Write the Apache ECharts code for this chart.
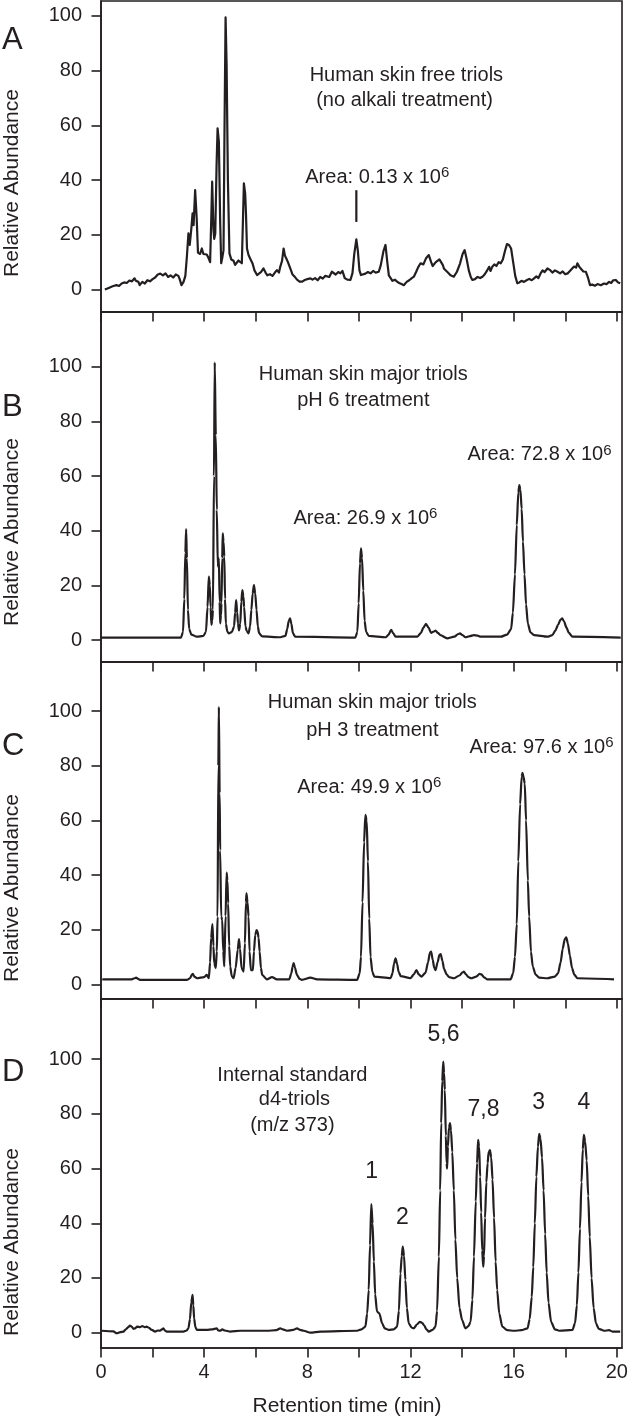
<!DOCTYPE html>
<html><head><meta charset="utf-8">
<script src="https://cdn.jsdelivr.net/npm/echarts@6/dist/echarts.min.js"></script>
<style>html,body{margin:0;padding:0;background:#fff}#c{width:633px;height:1416px}</style>
</head><body><div id="c"></div>
<script>
// ---- axis ticks ----
const xTicks = [0, 2, 4, 6, 8, 10, 12, 14, 16, 18, 20];
const xLabels = [0, 4, 8, 12, 16, 20];
const yTicks = [0, 20, 40, 60, 80, 100];

// ---- traces: [retention time (min), relative abundance] ----
const traceA = [[0.15,0],[0.3,0.6],[0.45,1.2],[0.6,1.6],[0.7,1.3],[0.8,2.2],[0.9,2.6],[1.0,2.4],[1.1,3.3],[1.2,3.0],[1.3,4.1],[1.35,3.2],[1.45,2.8],[1.5,1.6],[1.6,2.8],[1.7,2.2],[1.8,3.4],[1.9,3.0],[2.0,3.8],[2.1,4.4],[2.2,5.5],[2.3,5.8],[2.4,5.2],[2.5,5.9],[2.6,4.6],[2.7,5.2],[2.8,4.4],[2.9,5.5],[3.0,5.0],[3.05,3.8],[3.12,1.6],[3.2,2.8],[3.27,5.0],[3.33,12],[3.39,20.5],[3.44,16.3],[3.5,22],[3.55,27.8],[3.59,23.5],[3.65,36.3],[3.71,26],[3.76,13.5],[3.84,13],[3.91,15],[3.97,13],[4.04,12.4],[4.1,12.8],[4.17,11.5],[4.23,10],[4.27,24],[4.31,39.4],[4.36,22],[4.39,18.5],[4.43,20.5],[4.48,45],[4.52,58.9],[4.57,54],[4.62,25],[4.66,9.6],[4.71,12],[4.75,14.4],[4.79,60],[4.83,99.4],[4.87,82],[4.92,40],[4.98,13.2],[5.05,11],[5.14,10.5],[5.2,9],[5.27,9.6],[5.33,10.6],[5.40,10],[5.46,9.6],[5.5,24],[5.54,38.8],[5.59,35],[5.62,28],[5.66,15],[5.72,12.6],[5.8,11],[5.88,9.4],[5.95,7],[6.05,5.3],[6.12,5.6],[6.2,6.4],[6.3,7.7],[6.38,6.2],[6.45,5.2],[6.55,5.6],[6.65,5.0],[6.75,6.3],[6.82,7.1],[6.9,6.2],[6.95,8.3],[7.02,10.5],[7.08,15],[7.13,12.5],[7.18,11.4],[7.24,10.2],[7.31,9.6],[7.36,7.2],[7.42,5.6],[7.5,4.8],[7.6,3.6],[7.7,2.9],[7.8,2.9],[7.9,3.5],[8.0,3.8],[8.12,4.1],[8.2,3.6],[8.3,4.2],[8.4,3.4],[8.5,4.6],[8.6,4.0],[8.7,5.0],[8.76,5.3],[8.85,4.6],[8.95,6.5],[9.02,6.8],[9.1,5.5],[9.2,6.4],[9.28,5.9],[9.36,6.8],[9.45,4.2],[9.55,3.6],[9.67,3.5],[9.75,6],[9.82,13],[9.9,18.3],[9.96,14],[10.02,7],[10.08,5.3],[10.15,5.0],[10.25,5.8],[10.35,6.4],[10.45,5.9],[10.55,6.8],[10.65,6.2],[10.77,6.5],[10.85,9],[10.95,14],[11.03,16.3],[11.1,10],[11.16,5.2],[11.2,4.7],[11.3,3.2],[11.4,3.6],[11.48,2.9],[11.56,2.4],[11.65,2.0],[11.74,1.6],[11.85,2.8],[11.95,3.4],[12.05,4.2],[12.13,4.7],[12.22,6.5],[12.3,8.2],[12.39,9.6],[12.5,9.2],[12.6,11.4],[12.71,12.6],[12.8,10],[12.86,8.6],[12.91,8.3],[12.98,10],[13.05,9.4],[13.12,11],[13.17,10.8],[13.25,9],[13.3,7.6],[13.36,8.3],[13.45,6.2],[13.55,5.2],[13.68,4.7],[13.8,6.5],[13.92,9.5],[14.02,13],[14.1,14.4],[14.18,11],[14.26,7],[14.34,4.5],[14.4,3.5],[14.5,3.8],[14.6,4.6],[14.7,4.2],[14.79,4.7],[14.88,5.6],[14.96,6.8],[15.05,8.3],[15.1,6.8],[15.17,8.3],[15.25,9.2],[15.33,8.6],[15.42,10],[15.5,9.6],[15.58,11],[15.66,14],[15.74,16.6],[15.82,16.3],[15.9,15],[15.98,10],[16.06,5],[16.14,2.3],[16.22,2.6],[16.3,3.2],[16.4,2.8],[16.5,3.4],[16.6,3.9],[16.7,3.4],[16.79,4.1],[16.88,4.8],[16.96,4.2],[17.05,6.0],[17.12,7.0],[17.2,6.4],[17.31,7.7],[17.4,7.2],[17.5,6.2],[17.6,7.0],[17.7,6.5],[17.8,5.9],[17.9,6.6],[18.0,5.6],[18.09,5.9],[18.18,6.8],[18.26,7.6],[18.34,8.4],[18.42,8.0],[18.47,9.6],[18.55,8.2],[18.62,7.8],[18.7,6.6],[18.8,6.5],[18.88,4.4],[18.96,1.6],[19.05,1.8],[19.15,1.4],[19.25,2.0],[19.38,1.6],[19.5,2.2],[19.6,2.0],[19.7,2.8],[19.78,2.4],[19.86,3.4],[19.96,3.5],[20.05,2.6],[20.13,2.3]];

const traceB = [[0,0.9],[3.1,0.9],[3.18,3],[3.23,15],[3.27,32],[3.3,40.6],[3.33,30],[3.37,11],[3.42,4],[3.5,2],[3.72,1.2],[3.97,1.5],[4.07,3],[4.13,12],[4.18,23.2],[4.22,20],[4.25,12],[4.28,5.5],[4.31,7],[4.34,11],[4.38,60],[4.41,101.6],[4.45,75],[4.49,47.6],[4.53,26.8],[4.57,29.9],[4.6,14],[4.62,6.1],[4.65,9],[4.67,13.4],[4.7,30],[4.72,39],[4.75,36],[4.78,30.5],[4.81,15],[4.84,6],[4.9,3],[4.96,2.4],[5.08,3],[5.16,5],[5.2,10],[5.24,14.6],[5.28,10],[5.31,6.1],[5.35,3.5],[5.4,6],[5.44,14],[5.48,18.3],[5.52,16],[5.55,12],[5.6,5],[5.65,3.3],[5.72,2.4],[5.78,5],[5.83,11],[5.88,17],[5.93,20.1],[5.98,17],[6.03,11],[6.08,5],[6.13,2.5],[6.25,1.3],[6.95,1],[7.15,1.5],[7.22,4],[7.28,7],[7.33,7.9],[7.38,6],[7.44,2.5],[7.53,1.2],[9.86,0.9],[9.94,3],[9.99,13.4],[10.04,28],[10.08,33.5],[10.12,30],[10.17,18],[10.22,7],[10.28,3],[10.38,1.5],[11.05,1],[11.15,2],[11.25,3.7],[11.33,2.4],[11.42,1.2],[12.26,1.2],[12.4,2.5],[12.5,4.5],[12.6,5.9],[12.7,4.5],[12.8,2.6],[12.9,3.1],[12.97,3.4],[13.06,2.6],[13.16,1.8],[13.42,0.6],[13.7,1.2],[13.85,2.2],[13.92,2.4],[14.0,1.9],[14.13,1.0],[14.3,1.4],[14.46,1.8],[14.6,1.6],[14.72,1.2],[15.5,1.2],[15.75,2],[15.9,4],[15.97,10],[16.05,24],[16.12,42],[16.18,54],[16.22,56.7],[16.26,55],[16.31,48],[16.36,36],[16.42,24],[16.48,13],[16.55,6],[16.65,2.8],[16.79,1.8],[17.31,1.2],[17.5,1.8],[17.62,3.5],[17.72,5.5],[17.82,7.5],[17.88,7.9],[17.95,6.8],[18.05,4.5],[18.14,2.6],[18.28,1.2],[20.15,0.9]];

const traceC = [[0.05,1.8],[1.19,1.8],[1.3,2.2],[1.36,2.4],[1.44,2.0],[1.51,1.6],[3.33,1.6],[3.45,2.2],[3.52,3.4],[3.56,3.8],[3.62,2.8],[3.72,2.2],[4.0,2.6],[4.1,3.4],[4.18,2.2],[4.23,8],[4.27,17],[4.32,22],[4.36,14],[4.39,7.7],[4.45,5.9],[4.49,12],[4.52,24.8],[4.55,80],[4.57,101.6],[4.6,70],[4.62,49],[4.66,24.8],[4.7,23.5],[4.74,12],[4.78,6.5],[4.83,25],[4.87,40.9],[4.9,38],[4.93,29.6],[4.97,14],[5.01,6.5],[5.07,3],[5.14,2.2],[5.22,6],[5.3,12.6],[5.35,16.5],[5.39,13],[5.45,5.9],[5.53,4.6],[5.58,15],[5.62,30],[5.64,33.3],[5.68,30],[5.72,24.8],[5.76,12],[5.81,5.2],[5.89,5.2],[5.93,12],[5.98,18],[6.03,19.8],[6.07,19.3],[6.11,17],[6.15,12],[6.2,6],[6.25,3.4],[6.43,1.8],[6.63,2.6],[6.82,1.8],[7.3,1.8],[7.38,4],[7.43,6.5],[7.47,7.7],[7.52,6],[7.6,3.4],[7.7,2],[7.79,1.6],[8.12,2.4],[8.38,1.8],[9.93,1.6],[10.03,4],[10.08,10],[10.14,30],[10.2,52],[10.25,62],[10.3,60],[10.35,45],[10.4,24],[10.45,10],[10.52,4.5],[10.6,2.8],[11.23,2.2],[11.3,4],[11.36,7.5],[11.42,9.5],[11.48,7.5],[11.54,4.5],[11.62,3],[12.0,2.2],[12.12,3.5],[12.23,5.2],[12.32,3.6],[12.42,2.8],[12.58,4.2],[12.68,8],[12.75,11.5],[12.8,12],[12.86,9],[12.92,6],[12.97,5.2],[13.05,8],[13.12,10.8],[13.17,11],[13.24,8.5],[13.3,5.6],[13.4,3.6],[13.5,2.6],[13.68,2.2],[13.9,3.2],[14.02,4.4],[14.07,4.6],[14.15,3.6],[14.25,2.6],[14.35,2.2],[14.55,2.8],[14.68,3.8],[14.75,3.6],[14.87,2.4],[14.97,1.8],[15.88,1.8],[15.98,4],[16.05,10],[16.12,22],[16.18,45],[16.25,66],[16.31,76],[16.34,77.4],[16.38,76],[16.43,73.5],[16.48,60],[16.55,38],[16.6,24.8],[16.67,12],[16.74,6.5],[16.85,3.5],[17.0,2.4],[17.31,2.2],[17.6,2.8],[17.72,4],[17.82,8],[17.9,13],[17.98,16.5],[18.04,17.2],[18.1,15],[18.18,10.5],[18.26,6],[18.35,3.5],[18.47,2.2],[19.89,1.8]];

const traceD = [[0.03,0.7],[0.48,0.5],[0.61,-0.2],[0.75,0.2],[0.87,0.4],[0.96,1.2],[1.06,2],[1.12,2.6],[1.19,2.2],[1.26,1.4],[1.32,1.6],[1.4,2.2],[1.51,2],[1.6,2.4],[1.7,2.0],[1.77,2.2],[1.85,1.8],[1.97,1],[2.1,0.4],[2.2,0.8],[2.29,0.7],[2.36,1.2],[2.42,1.6],[2.48,0.8],[2.55,0.4],[3.2,0.4],[3.32,0.8],[3.39,1.6],[3.45,5],[3.5,11],[3.55,13.8],[3.58,10],[3.61,5.2],[3.66,2],[3.72,1],[4.1,1],[4.3,1.2],[4.49,1.6],[4.55,0.8],[4.62,0.7],[4.7,1.2],[4.8,0.8],[5.01,0.4],[5.4,0.7],[6.43,0.7],[6.8,0.9],[6.95,1.6],[7.05,1.2],[7.21,0.7],[7.45,1.0],[7.6,1.6],[7.72,1.0],[7.86,0.7],[8.12,0],[8.5,0.4],[9.93,0.7],[10.1,1.2],[10.25,2.2],[10.32,7],[10.38,15.6],[10.43,32],[10.48,47],[10.53,40],[10.58,26],[10.63,14],[10.7,7.7],[10.79,7.1],[10.9,3.4],[11.0,1.6],[11.16,1],[11.35,1.2],[11.48,2.2],[11.55,8],[11.61,21.7],[11.66,28],[11.7,31.5],[11.75,28],[11.8,19.3],[11.86,9],[11.93,3.4],[12.05,1.8],[12.13,1.6],[12.25,3],[12.36,4],[12.45,3.6],[12.52,2.8],[12.62,1.2],[12.71,0.4],[12.85,1],[12.97,2.2],[13.03,8],[13.1,27.8],[13.15,52],[13.19,76.6],[13.23,92],[13.27,99.1],[13.3,95],[13.33,88.8],[13.37,72],[13.4,62],[13.42,60],[13.45,68],[13.49,75],[13.53,76.6],[13.57,74],[13.62,66],[13.68,52],[13.74,34],[13.81,20],[13.9,9],[14.0,4.6],[14.13,1.6],[14.25,2.4],[14.33,4],[14.4,12],[14.46,27.8],[14.53,48],[14.58,62],[14.62,70.5],[14.66,68],[14.7,57],[14.74,44],[14.78,30],[14.82,24.1],[14.85,28],[14.89,42],[14.94,55],[14.99,62],[15.03,66],[15.08,66.8],[15.13,64],[15.18,56],[15.24,42],[15.3,26],[15.36,15.6],[15.44,7],[15.56,2.2],[15.75,0.9],[16.02,0.7],[16.3,0.9],[16.54,1.6],[16.62,5],[16.7,13],[16.76,24],[16.82,40],[16.88,57],[16.94,68],[16.99,72.7],[17.04,71],[17.1,64],[17.16,52],[17.22,36],[17.28,22],[17.35,11],[17.45,4],[17.6,1.2],[17.77,0.7],[18.28,1],[18.38,3.5],[18.45,10],[18.51,22],[18.57,38],[18.63,55],[18.68,67],[18.72,72.3],[18.77,70],[18.83,63],[18.89,50],[18.95,35],[19.02,20],[19.1,9],[19.19,3.4],[19.3,1.4],[19.51,0.7],[19.7,0.9],[19.83,0.4],[20.13,0.4]];

// marker tick above the 0.13 x 10^6 peak in panel A
const markerA = [[9.9, 24.7], [9.9, 36.3]];

const panelLetters = ['A', 'B', 'C', 'D'];
const yAxisTitle = 'Relative Abundance';
const xAxisTitle = 'Retention time (min)';

// annotations in data coordinates of each panel
const annotations = [
  [
    {x: 11.84, y: 78.3, t: 'Human skin free triols', a: 'center'},
    {x: 11.77, y: 69.2, t: '(no alkali treatment)', a: 'center'},
    {x: 7.92, y: 41.1, t: 'Area: 0.13 x 10{s|6}', a: 'left'}
  ],
  [
    {x: 10.17, y: 97, t: 'Human skin major triols', a: 'center'},
    {x: 10.17, y: 87.8, t: 'pH 6 treatment', a: 'center'},
    {x: 7.46, y: 44.6, t: 'Area: 26.9 x 10{s|6}', a: 'left'},
    {x: 14.21, y: 67.7, t: 'Area: 72.8 x 10{s|6}', a: 'left'}
  ],
  [
    {x: 10.52, y: 103, t: 'Human skin major triols', a: 'center'},
    {x: 10.52, y: 93, t: 'pH 3 treatment', a: 'center'},
    {x: 7.61, y: 72.2, t: 'Area: 49.9 x 10{s|6}', a: 'left'},
    {x: 14.29, y: 86.8, t: 'Area: 97.6 x 10{s|6}', a: 'left'}
  ],
  [
    {x: 7.42, y: 93.9, t: 'Internal standard', a: 'center'},
    {x: 7.5, y: 85.1, t: 'd4-triols', a: 'center'},
    {x: 7.42, y: 75.9, t: '(m/z 373)', a: 'center'},
    {x: 10.49, y: 58.8, t: '1', a: 'center', big: true},
    {x: 11.69, y: 41.9, t: '2', a: 'center', big: true},
    {x: 13.28, y: 108.9, t: '5,6', a: 'center', big: true},
    {x: 14.83, y: 81.4, t: '7,8', a: 'center', big: true},
    {x: 16.97, y: 84, t: '3', a: 'center', big: true},
    {x: 18.72, y: 84, t: '4', a: 'center', big: true}
  ]
];

// ---- layout / style ----
const FF = '"Liberation Sans", Arial, Helvetica, sans-serif';
const INK = '#231f20';
const panelTop = [1, 312, 662, 999];
const panelH = [311, 350, 337, 349];
const yMin = [-8.2, -8.05, -5.4, -5.6];
const yMax = [105.4, 120, 118, 122];
const traces = [traceA, traceB, traceC, traceD];
const letterY = [40, 407, 746, 1072];
const yTitleY = [183, 532, 888, 1242];

const grids = [], xAxes = [], yAxes = [], series = [];
for (let i = 0; i < 4; i++) {
  grids.push({left: 101, right: 11, top: panelTop[i], height: panelH[i], show: true,
    borderColor: INK, borderWidth: 1.6, backgroundColor: 'transparent'});
  xAxes.push({type: 'value', gridIndex: i, min: 0, max: 20.2,
    axisLine: {show: true, onZero: false, lineStyle: {color: INK, width: 1.6}},
    axisTick: {show: true, inside: false, length: 9.5, customValues: xTicks, lineStyle: {color: INK, width: 1.6}},
    axisLabel: {show: i === 3, customValues: xLabels, margin: 14, color: INK, fontSize: 20, fontFamily: FF},
    splitLine: {show: false}});
  yAxes.push({type: 'value', gridIndex: i, min: yMin[i], max: yMax[i],
    axisLine: {show: true, lineStyle: {color: INK, width: 1.6}},
    axisTick: {show: true, inside: false, length: 9.5, customValues: yTicks, lineStyle: {color: INK, width: 1.6}},
    axisLabel: {show: true, customValues: yTicks, margin: 19, color: INK, fontSize: 20, fontFamily: FF},
    splitLine: {show: false}});
  series.push({type: 'line', name: 'Panel ' + panelLetters[i], xAxisIndex: i, yAxisIndex: i,
    data: traces[i], symbol: 'none', showSymbol: false, clip: true,
    smooth: i === 0 ? false : 0.25, smoothMonotone: 'x',
    lineStyle: {color: INK, width: 2.2, join: 'round'},
    markPoint: {symbol: 'circle', symbolSize: 1, silent: true, animation: false,
      itemStyle: {color: 'rgba(0,0,0,0)'},
      label: {show: true, position: 'inside', color: INK, fontFamily: FF, fontSize: 20,
        rich: {s: {fontSize: 15, fontFamily: FF, color: INK, padding: [0, 0, 9, 0]}}},
      data: annotations[i].map(a => ({coord: [a.x, a.y],
        label: {formatter: () => a.t, align: a.a, fontSize: a.big ? 23 : 20}}))}
  });
}
series.push({type: 'line', name: 'marker', xAxisIndex: 0, yAxisIndex: 0, data: markerA,
  symbol: 'none', lineStyle: {color: INK, width: 2.2}, silent: true});

const graphics = [];
for (let i = 0; i < 4; i++) {
  graphics.push({type: 'text', x: 2, y: letterY[i], silent: true,
    style: {text: panelLetters[i], fontSize: 31, fontFamily: FF, fill: INK, textAlign: 'left', textVerticalAlign: 'middle'}});
  graphics.push({type: 'text', x: 12, y: yTitleY[i], rotation: Math.PI / 2, silent: true,
    style: {text: yAxisTitle, fontSize: 21, fontFamily: FF, fill: INK, textAlign: 'center', textVerticalAlign: 'middle'}});
}
graphics.push({type: 'text', x: 347, y: 1406, silent: true,
  style: {text: xAxisTitle, fontSize: 21, fontFamily: FF, fill: INK, textAlign: 'center', textVerticalAlign: 'middle'}});

const chart = echarts.init(document.getElementById('c'), null, {renderer: 'canvas'});
chart.setOption({
  animation: false,
  backgroundColor: '#fff',
  grid: grids, xAxis: xAxes, yAxis: yAxes, series: series,
  graphic: graphics
});
</script></body></html>
